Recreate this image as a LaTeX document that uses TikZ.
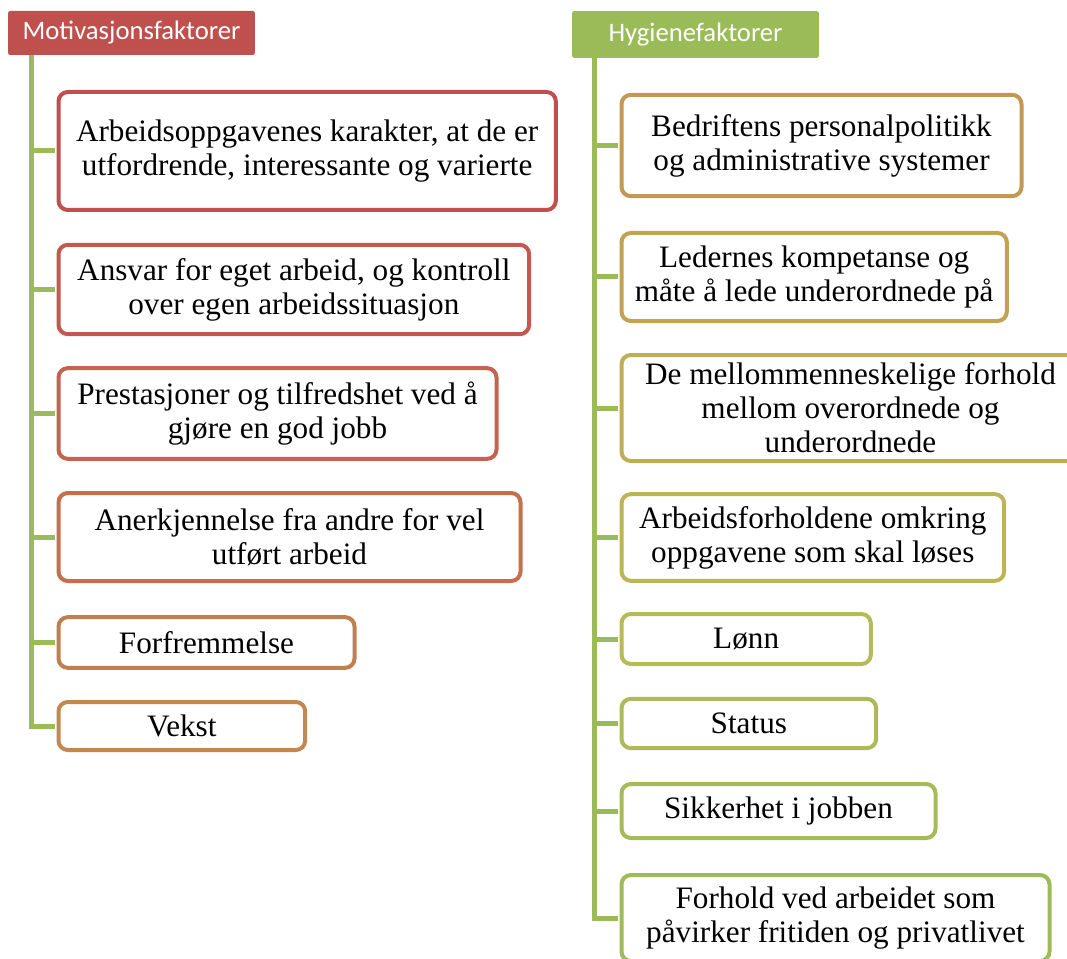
\documentclass[tikz,border=0pt]{standalone}
\usepackage{fontspec}
\setmainfont{Liberation Serif}
\newfontfamily\headfont{Carlito}
\usepackage{xcolor}
\usetikzlibrary{positioning}

\definecolor{mred}{HTML}{C0504D}
\definecolor{mgreen}{HTML}{9BBB59}
\definecolor{cm1}{HTML}{C0504D}
\definecolor{cm2}{HTML}{C3584E}
\definecolor{cm3}{HTML}{C4634F}
\definecolor{cm4}{HTML}{C4704F}
\definecolor{cm5}{HTML}{C27E4F}
\definecolor{cm6}{HTML}{C28850}
\definecolor{ch1}{HTML}{C39853}
\definecolor{ch2}{HTML}{C2A355}
\definecolor{ch3}{HTML}{BEAD55}
\definecolor{ch4}{HTML}{BBB556}
\definecolor{ch5}{HTML}{B4BB57}
\definecolor{ch6}{HTML}{ACBB58}
\definecolor{ch7}{HTML}{A5BB58}
\definecolor{ch8}{HTML}{9FBB59}

\begin{document}
\begin{tikzpicture}[
  x=0.75pt, y=-0.75pt,
  head/.style={fill=#1, rounded corners=1.5pt, inner sep=0pt, text=white, font=\headfont\fontsize{20}{23}\selectfont},
  item/.style={draw=#1, line width=3pt, rounded corners=7pt, fill=white, anchor=west, align=center, inner sep=0pt, font=\fontsize{23.4}{25.5}\selectfont},
  spine/.style={draw=mgreen, line width=3.75pt}
]
\useasboundingbox (0,0) rectangle (1067,959);

% headers
\node[head=mred, minimum width=185pt, minimum height=33pt] (mhead) at (131.5,33) {Motivasjonsfaktorer};
\node[head=mgreen, minimum width=185pt, minimum height=35pt] (hhead) at (695.5,34.5) {Hygienefaktorer};

% motivation factors
\node[item=cm1, minimum width=373pt, minimum height=88.5pt] (m1) at (56.5,151) {Arbeidsoppgavenes karakter, at de er\\utfordrende, interessante og varierte};
\node[item=cm2, minimum width=353pt, minimum height=67pt] (m2) at (56.5,289.5) {Ansvar for eget arbeid, og kontroll\\over egen arbeidssituasjon};
\node[item=cm3, minimum width=328.5pt, minimum height=68pt] (m3) at (56.5,413.5) {Prestasjoner og tilfredshet ved å\\gjøre en god jobb};
\node[item=cm4, minimum width=346.5pt, minimum height=66pt] (m4) at (56.5,537) {Anerkjennelse fra andre for vel\\utført arbeid};
\node[item=cm5, minimum width=222pt, minimum height=38pt] (m5) at (56.5,642.5) {Forfremmelse};
\node[item=cm6, minimum width=185pt, minimum height=36pt] (m6) at (56.5,726) {Vekst};

% hygiene factors
\node[item=ch1, minimum width=300pt, minimum height=76pt] (h1) at (619.5,145.5) {Bedriftens personalpolitikk\\og administrative systemer};
\node[item=ch2, minimum width=289pt, minimum height=66pt] (h2) at (619.5,277) {Ledernes kompetanse og\\måte å lede underordnede på};
\node[item=ch3, minimum width=343.5pt, minimum height=79.5pt] (h3) at (619.5,408) {De mellommenneskelige forhold\\mellom overordnede og\\underordnede};
\node[item=ch4, minimum width=287pt, minimum height=65pt] (h4) at (619.5,537.5) {Arbeidsforholdene omkring\\oppgavene som skal løses};
\node[item=ch5, minimum width=187pt, minimum height=37.5pt] (h5) at (619.5,639) {Lønn};
\node[item=ch6, minimum width=191pt, minimum height=37pt] (h6) at (619.5,723.5) {Status};
\node[item=ch7, minimum width=235.5pt, minimum height=40.5pt] (h7) at (619.5,811) {Sikkerhet i jobben};
\node[item=ch8, minimum width=321pt, minimum height=64.5pt] (h8) at (619.5,918) {Forhold ved arbeidet som\\påvirker fritiden og privatlivet};

% connectors
\coordinate (mspine) at (31,0);
\coordinate (hspine) at (594,0);
\draw[spine] (mspine |- mhead.south) |- ([xshift=-1.5pt]m6.west);
\foreach \k in {1,...,5}
  \draw[spine] (mspine |- m\k.west) -- ([xshift=-1.5pt]m\k.west);
\draw[spine] (hspine |- hhead.south) |- ([xshift=-1.5pt]h8.west);
\foreach \k in {1,...,7}
  \draw[spine] (hspine |- h\k.west) -- ([xshift=-1.5pt]h\k.west);
\end{tikzpicture}
\end{document}
